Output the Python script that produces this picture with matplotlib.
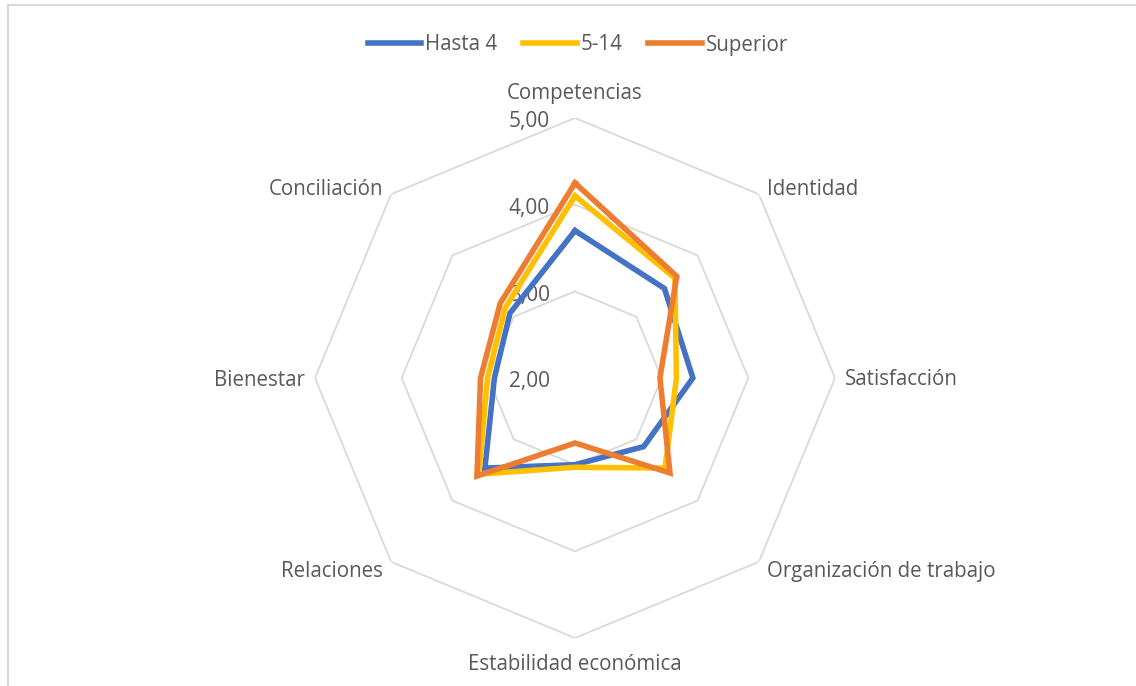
import numpy as np
import matplotlib
matplotlib.use("Agg")
import matplotlib.pyplot as plt
from matplotlib.lines import Line2D

plt.rcParams['font.family'] = ['Open Sans', 'DejaVu Sans']

# radar data (scores 2-5)
categories = ['Competencias', 'Identidad', 'Satisfacción', 'Organización de trabajo',
              'Estabilidad económica', 'Relaciones', 'Bienestar', 'Conciliación']
hasta_4  = [3.70, 3.46, 3.36, 3.12, 3.00, 3.47, 2.93, 3.06]
de_5_14  = [4.10, 3.63, 3.17, 3.47, 3.03, 3.57, 3.01, 3.14]
superior = [4.25, 3.66, 2.98, 3.55, 2.75, 3.60, 3.09, 3.22]
series_names = ['Hasta 4', '5-14', 'Superior']
ring_values = [2.0, 3.0, 4.0, 5.0]
ring_labels = ['2,00', '3,00', '4,00', '5,00']

colors = ['#4472C4', '#FFC000', '#ED7D31']
grid_col = '#D9D9D9'
text_col = '#595959'

W, H = 1136, 686
fig = plt.figure(figsize=(W/100, H/100), dpi=100)
fig.patch.set_facecolor('white')

cx, cy, R = 575, 378, 260
ax = fig.add_axes([(cx-R)/W, (H-cy-R)/H, 2*R/W, 2*R/H], projection='polar')
ax.set_theta_zero_location('N')
ax.set_theta_direction(-1)
ax.set_ylim(2, 5)
ax.grid(False)
ax.set_xticks([])
ax.set_yticks([])
ax.spines['polar'].set_visible(False)
ax.patch.set_alpha(0)

n = len(categories)
ang = np.linspace(0, 2*np.pi, n, endpoint=False)
ang_c = np.append(ang, ang[0])

# octagon rings
for r in ring_values[1:]:
    ax.plot(ang_c, [r]*(n+1), color=grid_col, lw=1.3, zorder=1)

for vals, col in zip([hasta_4, de_5_14, superior], colors):
    v = np.append(vals, vals[0])
    ax.plot(ang_c, v, color=col, lw=4.0, solid_joinstyle='miter', zorder=3)

# value labels on the vertical axis
for r, lab in zip(ring_values, ring_labels):
    ax.annotate(lab, xy=(0, r), xytext=(-25, -4), textcoords='offset pixels',
                ha='right', va='center', fontsize=15, color=text_col, zorder=2)

# category labels
offsets = [(0, 24, 'center'), (8, 5, 'left'), (10, -2, 'left'), (8, -10, 'left'),
           (0, -27, 'center'), (-8, -10, 'right'), (-10, -2, 'right'), (-8, 5, 'right')]
for a, lab, (dx, dy, ha) in zip(ang, categories, offsets):
    ax.annotate(lab, xy=(a, 5), xytext=(dx, dy), textcoords='offset pixels',
                ha=ha, va='center', fontsize=14.8, color=text_col, annotation_clip=False)

handles = [Line2D([0], [0], color=c, lw=4) for c in colors]
fig.legend(handles, series_names, loc='center', bbox_to_anchor=(578/W, 1-45/H),
           ncol=3, frameon=False, fontsize=14.8, handlelength=2.6, handletextpad=0.2,
           columnspacing=1.25, labelcolor=text_col)

# chart area border
fig.add_artist(Line2D([8/W, 1], [1-5/H, 1-5/H], color=grid_col, lw=1.5))
fig.add_artist(Line2D([8/W, 8/W], [0, 1-5/H], color=grid_col, lw=1.5))

fig.savefig('out.png', dpi=100, facecolor='white')
